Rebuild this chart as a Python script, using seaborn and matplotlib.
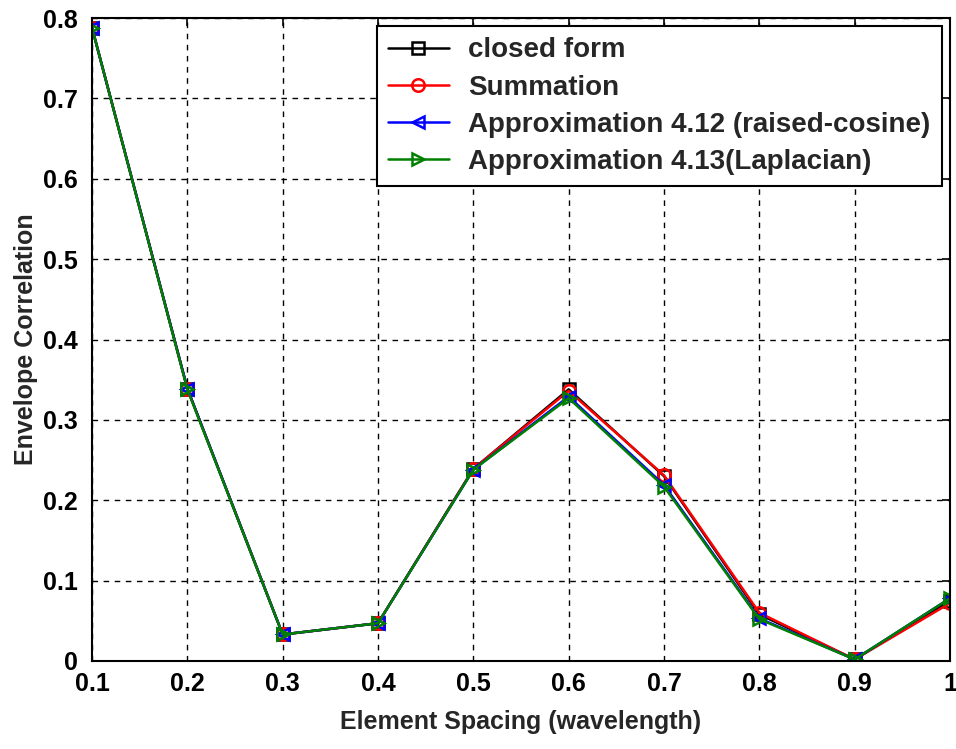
import matplotlib
matplotlib.use("Agg")
import matplotlib.pyplot as plt
import seaborn as sns
import pandas as pd

spacing = [0.1, 0.2, 0.3, 0.4, 0.5, 0.6, 0.7, 0.8, 0.9, 1.0]
closed_form = [0.788, 0.339, 0.033, 0.047, 0.239, 0.338, 0.230, 0.058, 0.002, 0.075]
summation = [0.788, 0.339, 0.033, 0.047, 0.239, 0.336, 0.231, 0.060, 0.002, 0.072]
approx_rc = [0.788, 0.339, 0.033, 0.047, 0.238, 0.329, 0.219, 0.053, 0.002, 0.078]
approx_lap = [0.788, 0.338, 0.033, 0.047, 0.238, 0.327, 0.217, 0.052, 0.002, 0.078]

labels = ["closed form", "Summation", "Approximation 4.12 (raised-cosine)", "Approximation 4.13(Laplacian)"]
series = [closed_form, summation, approx_rc, approx_lap]
colors = ["black", "red", "blue", "green"]
markers = ["s", "o", "<", ">"]

rows = []
for lab, vals in zip(labels, series):
    for x, v in zip(spacing, vals):
        rows.append({"x": x, "y": v, "series": lab})
df = pd.DataFrame(rows)

sns.set_style("white")
plt.rcParams['font.family'] = ['Liberation Sans', 'DejaVu Sans']
plt.rcParams['font.weight'] = 'bold'

fig = plt.figure(figsize=(9.56, 7.49), dpi=100)
ax = fig.add_axes([92/956, 1 - 661/749, (950 - 92)/956, (661 - 18)/749])

for lab, c, m in zip(labels, colors, markers):
    sub = df[df["series"] == lab]
    sns.lineplot(data=sub, x="x", y="y", ax=ax, color=c, marker=m, markersize=9,
                 markerfacecolor="none", markeredgecolor=c, markeredgewidth=1.8,
                 linewidth=1.8, label=lab, estimator=None, sort=False)

ax.set_xlim(0.1, 1.0)
ax.set_ylim(0, 0.8)
ax.set_xticks(spacing)
ax.set_xticklabels(["0.1", "0.2", "0.3", "0.4", "0.5", "0.6", "0.7", "0.8", "0.9", "1"])
ax.set_yticks([0, 0.1, 0.2, 0.3, 0.4, 0.5, 0.6, 0.7, 0.8])
ax.set_yticklabels(["0", "0.1", "0.2", "0.3", "0.4", "0.5", "0.6", "0.7", "0.8"])
ax.grid(True, color="black", linestyle=(0, (4, 4)), linewidth=1.0)
ax.tick_params(direction="in", length=6, width=1.2, top=True, right=True,
               labelsize=18, colors="black")
ax.tick_params(axis="x", pad=8)
ax.tick_params(axis="y", pad=10)
for sp in ax.spines.values():
    sp.set_color("black")
    sp.set_linewidth(1.5)
ax.set_xlabel("Element Spacing (wavelength)", fontsize=18, fontweight="bold", labelpad=10)
ax.set_ylabel("Envelope Correlation", fontsize=18, fontweight="bold", labelpad=4)

leg = ax.legend(loc="upper right", fontsize=20, frameon=True, fancybox=False,
                edgecolor="black", framealpha=1, handlelength=2.2, borderaxespad=0.3,
                labelspacing=0.4, handletextpad=0.7, borderpad=0.4)
leg.get_frame().set_linewidth(1.5)
for t in leg.get_texts():
    t.set_fontweight("bold")

fig.savefig("out.png", dpi=100)
